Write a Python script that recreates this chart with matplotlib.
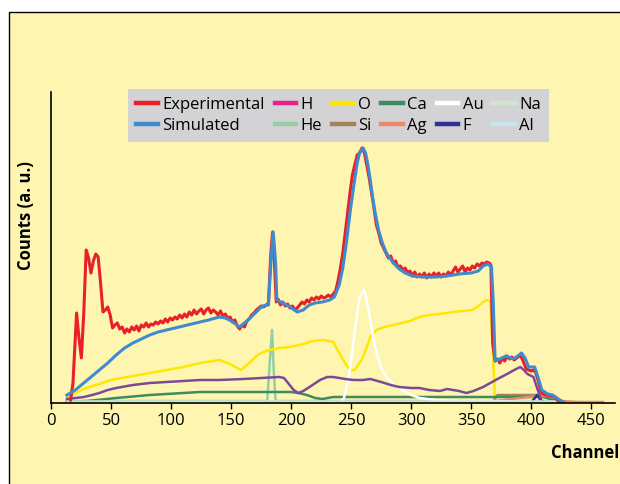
import matplotlib.pyplot as plt
import matplotlib.patches as mpatches
import numpy as np

plt.rcParams['font.family'] = ['Open Sans', 'DejaVu Sans']

# Experimental spectrum (channel, counts)
exp_x = [16, 18, 21, 23, 25, 27, 29, 31, 33, 35, 37, 39, 41, 43, 45, 47, 49, 51, 53, 55,
         57, 59, 61, 63, 65, 67, 69, 71, 73, 75, 77, 79, 81, 83, 85, 87, 89, 91, 93, 95,
         97, 99, 101, 103, 105, 107, 109, 111, 113, 115, 117, 119, 121, 123, 125, 127, 129, 131, 133, 135,
         137, 139, 141, 143, 145, 147, 149, 151, 153, 155, 157, 159, 161, 163, 165, 167, 169, 171, 173, 175,
         177, 179, 181, 183, 184.5, 186, 187.5, 189, 191, 193, 195, 197, 199, 201, 203, 205, 207, 209, 211, 213,
         215, 217, 219, 221, 223, 225, 227, 229, 231, 233, 235, 237, 239, 241, 243, 245, 247, 249, 251, 253,
         255, 257, 259, 261, 263, 265, 267, 269, 271, 273, 275, 277, 279, 281, 283, 285, 287, 289, 291, 293,
         295, 297, 299, 301, 303, 305, 307, 309, 311, 313, 315, 317, 319, 321, 323, 325, 327, 329, 331, 333,
         335, 337, 339, 341, 343, 345, 347, 349, 351, 353, 355, 357, 359, 361, 363, 365, 366.5, 368, 370, 372,
         374, 376, 378, 380, 382, 384, 386, 388, 390, 392, 394, 396, 398, 400, 402, 404, 406, 408, 410, 412,
         414, 416, 418, 420, 422, 425]
exp_y = [3, 20, 90, 65, 45, 90, 153, 145, 130, 142, 149, 146, 120, 91, 93, 96, 88, 75, 78, 80,
         74, 76, 70, 74, 71, 76, 73, 77, 72, 78, 76, 80, 76, 79, 78, 81, 79, 82, 80, 84,
         81, 85, 83, 86, 84, 88, 85, 89, 86, 91, 88, 93, 89, 92, 94, 89, 93, 95, 90, 93,
         91, 88, 92, 87, 89, 85, 86, 81, 83, 77, 74, 78, 76, 82, 84, 88, 90, 93, 95, 97,
         96, 98, 100, 150, 171, 140, 101, 104, 98, 101, 97, 99, 95, 97, 93, 95, 98, 101, 99, 103,
         101, 105, 103, 106, 104, 107, 105, 106, 108, 106, 109, 112, 122, 135, 150, 170, 190, 210, 228, 238,
         248, 250, 255, 250, 238, 225, 210, 195, 178, 170, 160, 155, 150, 145, 147, 140, 142, 136, 137, 133,
         135, 130, 132, 127, 131, 126, 129, 126, 130, 125, 129, 126, 130, 127, 130, 126, 129, 127, 131, 128,
         132, 136, 131, 134, 137, 131, 135, 133, 137, 135, 139, 137, 140, 139, 141, 140, 138, 60, 42, 44,
         40, 45, 42, 47, 44, 46, 43, 45, 47, 46, 40, 34, 33, 32, 33, 30, 22, 12, 9, 8,
         8, 7, 7, 5, 3, 1]

# Simulated total
sim_x = [13, 20, 27, 34, 40, 47, 54, 61, 68, 75, 82, 89, 96, 103, 110, 117, 124, 131, 140, 145,
         150, 157, 163, 170, 176, 181, 183, 185, 187, 188, 193, 199, 205, 210, 215, 220, 226, 232, 236, 240,
         243, 246, 249, 252, 255, 257, 260, 262, 264, 266, 268, 270, 273, 276, 279, 282, 286, 290, 295, 301,
         310, 320, 330, 340, 350, 356, 360, 364, 367, 368.5, 370, 374, 379, 385, 389, 392, 395, 398, 403, 406,
         409, 414, 418, 421, 424, 427]
sim_y = [8, 13, 20, 27, 33, 40, 48, 55, 60, 64, 68, 71, 73, 75, 77, 79, 81, 83, 86, 85,
         82, 76, 82, 90, 97, 98, 140, 171, 140, 103, 100, 96, 91, 93, 98, 100, 101, 103, 106, 118,
         135, 160, 190, 216, 240, 250, 255, 250, 238, 222, 205, 190, 172, 160, 151, 145, 139, 134, 130, 127,
         126, 126, 127, 129, 130, 132, 137, 139, 136, 100, 42, 44, 47, 44, 47, 50, 45, 36, 36, 25,
         13, 9, 8, 5, 3, 1]

# Element contributions
o_x = [13, 20, 27, 34, 40, 47, 54, 68, 82, 96, 110, 124, 140, 147, 152, 158, 165, 172, 177, 182,
       190, 199, 210, 218, 227, 235, 240, 244, 247, 250, 253, 257, 260, 263, 266, 271, 278, 285, 292, 299,
       307, 315, 324, 335, 351, 355, 360, 363, 366, 368, 370]
o_y = [6, 10, 14, 17, 19, 22, 24, 27, 30, 33, 36, 40, 43, 40, 37, 33, 40, 48, 51, 53,
       55, 56, 59, 62, 63, 61, 50, 42, 36, 33, 33, 40, 46, 56, 66, 73, 76, 78, 80, 82,
       86, 88, 89, 91, 93, 96, 101, 103, 102, 55, 2]

purple_x = [13, 20, 27, 34, 40, 47, 54, 68, 82, 96, 110, 124, 140, 160, 175, 190, 194, 198, 202, 206,
            210, 214, 219, 224, 230, 235, 245, 252, 260, 266, 275, 283, 290, 300, 307, 315, 324, 330, 340, 346,
            352, 360, 366, 372, 380, 386, 391, 394, 397, 402, 405, 408]
purple_y = [4, 5, 6, 8, 10, 13, 15, 18, 20, 21, 22, 23, 23, 24, 25, 26, 25, 19, 13, 10,
            12, 15, 19, 23, 26, 26, 24, 23, 23, 24, 21, 18, 16, 15, 15, 13, 12, 14, 12, 10,
            12, 16, 20, 24, 29, 33, 36, 33, 29, 26, 15, 5]

ca_x = [13, 30, 54, 82, 110, 124, 150, 175, 199, 206, 213, 220, 226, 235, 300, 350, 410, 416, 422]
ca_y = [1, 2, 5, 8, 10, 11, 11, 11, 11, 10, 8, 5, 4, 6, 6, 6, 6, 4, 1]

si_x = [13, 100, 200, 300, 368, 372, 410, 420]
si_y = [1, 1, 1, 1, 1, 8, 8, 2]

ag_x = [240, 300, 362, 405, 420, 425, 440, 460]
ag_y = [1, 1, 1, 7, 7, 2, 1, 1]

he_x = [13, 100, 180, 181.5, 184, 185.5, 187, 250, 420]
he_y = [2, 2, 2, 30, 73, 30, 2, 2, 2]

au_x = [240, 244, 248, 252, 255, 257, 260.5, 262, 264, 267, 271, 275, 279.5, 285, 293, 300, 307, 320, 340, 370,
        400]
au_y = [0, 5, 25, 63, 90, 106, 113, 108, 96, 75, 50, 35, 26, 19, 13, 8, 5, 3, 2, 2,
        1]

h_x = [13, 420]
h_y = [0, 0]
f_x = [13, 400, 405, 408, 412]
f_y = [0, 0, 8, 3, 0]
na_x = [13, 200, 420]
na_y = [2, 2, 2]
al_x = [13, 200, 420]
al_y = [1, 1, 1]

fig = plt.figure(figsize=(6.2, 4.84), dpi=100, facecolor='white')
fig.patches.append(mpatches.Rectangle((9 / 620, -0.05), 1.1, 1 - 12 / 484 + 0.05,
                                      transform=fig.transFigure, facecolor='#fef6b0',
                                      edgecolor='black', linewidth=1.0, zorder=-5))

ax = fig.add_axes([51.4 / 620, 81 / 484, (615 - 51.4) / 620, (403 - 92) / 484])
ax.set_zorder(2)
ax.patch.set_visible(False)

lw = 2.2
ax.plot(h_x, h_y, color='#e8218c', lw=1.8, label='H')
ax.plot(he_x, he_y, color='#93cfa4', lw=1.8, label='He')
ax.plot(o_x, o_y, color='#ffe800', lw=1.8, label='O')
ax.plot(si_x, si_y, color='#a2845a', lw=1.8, label='Si')
ax.plot(ca_x, ca_y, color='#3f8a5f', lw=1.8, label='Ca')
ax.plot(ag_x, ag_y, color='#e9896a', lw=1.8, label='Ag')
ax.plot(au_x, au_y, color='white', lw=1.8, label='Au')
ax.plot(f_x, f_y, color='#2e3192', lw=1.8, label='F')
ax.plot(na_x, na_y, color='#cfe8cd', lw=1.8, label='Na')
ax.plot(al_x, al_y, color='#c6e6f0', lw=1.8, label='Al')
ax.plot(purple_x, purple_y, color='#7b4a97', lw=1.8, label='_nolegend_')
ax.plot(exp_x, exp_y, color='#e8202a', lw=lw, label='Experimental')
ax.plot(sim_x, sim_y, color='#3f8bd0', lw=lw, label='Simulated')

ax.set_xlim(0, 470)
ax.set_ylim(0, 311)
ax.set_xticks(np.arange(0, 451, 50))
ax.set_yticks([])
for s in ['top', 'right']:
    ax.spines[s].set_visible(False)
ax.spines['left'].set_linewidth(1.2)
ax.spines['bottom'].set_linewidth(1.2)
ax.tick_params(axis='x', direction='out', length=4, width=1, labelsize=12, pad=3)

fig.text(619 / 620, 1 - 453 / 484, 'Channel', ha='right', va='center',
         fontsize=12, fontweight='bold')
fig.text(26 / 620, 1 - 216 / 484, 'Counts (a. u.)', ha='center', va='center',
         rotation=90, fontsize=12, fontweight='bold')

handles, labels = ax.get_legend_handles_labels()
order = ['Experimental', 'Simulated', 'H', 'He', 'O', 'Si', 'Ca', 'Ag', 'Au', 'F', 'Na', 'Al']
hd = dict(zip(labels, handles))
leg = ax.legend([hd[k] for k in order], order, ncol=6, loc='upper left',
                bbox_to_anchor=(128 / 620, 1 - 89 / 484), bbox_transform=fig.transFigure,
                facecolor='#d3d3d5', edgecolor='none', framealpha=1, fancybox=False,
                fontsize=12, handlelength=1.3, handletextpad=0.25, columnspacing=0.6,
                borderpad=0.5, labelspacing=0.28, borderaxespad=0)
for l in leg.get_lines():
    l.set_linewidth(3.2)

fig.savefig('out.png', dpi=100)
